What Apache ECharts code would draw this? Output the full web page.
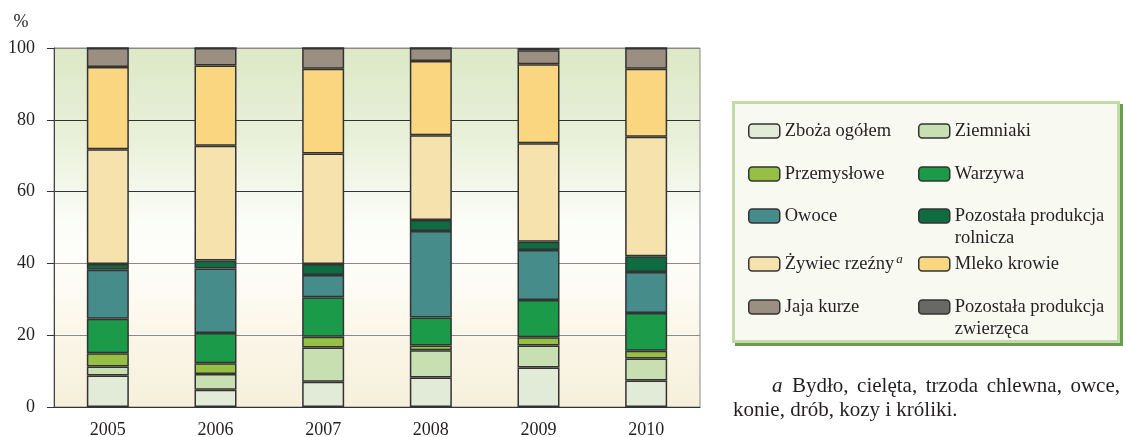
<!DOCTYPE html>
<html>
<head>
<meta charset="utf-8">
<script src="https://cdn.jsdelivr.net/npm/echarts@6/dist/echarts.min.js"></script>
<style>
html,body{margin:0;padding:0;background:#ffffff;}
#c{width:1123px;height:437px;}
</style>
</head>
<body>
<div id="c"></div>
<script>
// ---- data ----
const years = ['2005', '2006', '2007', '2008', '2009', '2010'];
const zboza = [8.8, 4.8, 7.0, 8.2, 11.0, 7.4];
const ziemniaki = [2.5, 4.4, 9.6, 7.6, 6.1, 6.1];
const przemyslowe = [3.7, 3.0, 3.0, 1.3, 2.3, 2.2];
const warzywa = [9.6, 8.4, 11.0, 7.8, 10.4, 10.5];
const owoce = [13.6, 18.0, 6.2, 24.1, 13.9, 11.4];
const pozRolnicza = [1.6, 2.2, 3.0, 3.1, 2.3, 4.4];
const zywiec = [32.0, 32.0, 30.8, 23.6, 27.5, 33.3];
const mleko = [22.9, 22.3, 23.6, 20.7, 22.0, 18.9];
const jaja = [5.3, 4.9, 5.8, 3.6, 3.9, 5.8];
const pozZwierzeca = [0, 0, 0, 0, 0.6, 0];

const seriesNames = ['Zboża ogółem', 'Ziemniaki', 'Przemysłowe', 'Warzywa', 'Owoce',
  'Pozostała produkcja rolnicza', 'Żywiec rzeźny', 'Mleko krowie', 'Jaja kurze',
  'Pozostała produkcja zwierzęca'];
const seriesData = [zboza, ziemniaki, przemyslowe, warzywa, owoce, pozRolnicza, zywiec, mleko, jaja, pozZwierzeca];
const seriesColors = ['#e2ebd7', '#c8e0b1', '#95c043', '#1b9b4a', '#468c8b', '#0f6b41',
  '#f5e2ad', '#f9d67f', '#9b8f82', '#676962'];
const legendLabels = ['Zboża ogółem', 'Ziemniaki', 'Przemysłowe', 'Warzywa', 'Owoce',
  'Pozostała produkcja\nrolnicza', '{n|Żywiec rzeźny}{s|a}', 'Mleko krowie', 'Jaja kurze',
  'Pozostała produkcja\nzwierzęca'];
const footLine1 = ['Bydło,', 'cielęta,', 'trzoda', 'chlewna,', 'owce,'];
const footLine2 = 'konie, drób, kozy i króliki.';

// ---- style ----
const FONT = 'Liberation Serif';
const TXT = '#231f20';
const LEG_FS = 18.5;
const LEG_LH = 22;

const chart = echarts.init(document.getElementById('c'), null, {renderer: 'canvas'});

const series = seriesNames.map((n, i) => ({
  name: n,
  type: 'bar',
  stack: 'total',
  barWidth: 42,
  data: seriesData[i],
  itemStyle: {color: seriesColors[i], borderColor: '#333333', borderWidth: 1.5},
  emphasis: {disabled: true}
}));

// legend layout: two columns, five rows
const colLeft = [748, 918];
const rowCenter = [131, 174, 216, 264, 307];
const legends = seriesNames.map((n, i) => {
  const col = i % 2, row = Math.floor(i / 2);
  const twoLine = legendLabels[i].indexOf('\n') >= 0;
  return {
    left: colLeft[col],
    top: rowCenter[row] - (twoLine ? LEG_LH * 1.5 : LEG_LH / 2),
    padding: 0,
    itemWidth: 31,
    itemHeight: 14,
    itemGap: 0,
    textGap: 16,
    selectedMode: false,
    data: [n],
    formatter: legendLabels[i],
    itemStyle: {borderColor: '#333333', borderWidth: 1.5},
    textStyle: {
      fontFamily: FONT, fontSize: LEG_FS, color: TXT, lineHeight: LEG_LH,
      padding: twoLine ? [LEG_LH, 0, 0, 0] : 0,
      rich: {
        n: {fontFamily: FONT, fontSize: LEG_FS, color: TXT, lineHeight: LEG_LH},
        s: {fontFamily: FONT, fontSize: 13, fontStyle: 'italic', color: TXT, lineHeight: 13, verticalAlign: 'top', padding: [0, 0, 0, 2]}
      }
    }
  };
});

// footnote justification
const mctx = document.createElement('canvas').getContext('2d');
const footFont = '21px "' + FONT + '"';
mctx.font = footFont;
const l1Start = 792, l1End = 1120;
const wWidths = footLine1.map(w => mctx.measureText(w).width);
const totalW = wWidths.reduce((a, b) => a + b, 0);
const gap = (l1End - l1Start - totalW) / (footLine1.length - 1);
const footGraphics = [];
let xx = l1Start;
footLine1.forEach((w, i) => {
  footGraphics.push({type: 'text', x: xx, y: 386, style: {text: w, font: footFont, fill: TXT, verticalAlign: 'middle'}});
  xx += wWidths[i] + gap;
});
footGraphics.push({type: 'text', x: 772, y: 386, style: {text: 'a', font: 'italic 21px "' + FONT + '"', fill: TXT, verticalAlign: 'middle'}});
footGraphics.push({type: 'text', x: 733, y: 410, style: {text: footLine2, font: footFont, fill: TXT, verticalAlign: 'middle'}});

const option = {
  animation: false,
  backgroundColor: '#ffffff',
  grid: {
    left: 54, right: 423, top: 48, bottom: 30,
    outerBoundsMode: 'none',
    containLabel: false,
    show: true,
    borderColor: '#8a8a8a',
    borderWidth: 1,
    backgroundColor: {
      type: 'linear', x: 0, y: 0, x2: 0, y2: 1,
      colorStops: [
        {offset: 0, color: '#dce8c6'},
        {offset: 0.25, color: '#e9f0da'},
        {offset: 0.5, color: '#fcfdf9'},
        {offset: 0.6, color: '#fefdf9'},
        {offset: 0.8, color: '#faf6e8'},
        {offset: 1, color: '#f6efdb'}
      ]
    }
  },
  legend: legends,
  xAxis: {
    type: 'category',
    data: years,
    axisLine: {lineStyle: {color: '#333333', width: 1}},
    axisTick: {show: false},
    axisLabel: {fontFamily: FONT, fontSize: 18, color: TXT, margin: 14}
  },
  yAxis: {
    type: 'value',
    min: 0, max: 100, interval: 20,
    axisLine: {show: true, lineStyle: {color: '#444444', width: 1}},
    axisTick: {show: true, length: 7, lineStyle: {color: '#333333'}},
    axisLabel: {fontFamily: FONT, fontSize: 18, color: TXT, margin: 19},
    splitLine: {show: true, lineStyle: {color: ['#333333', '#8a8a8a', '#8a8a8a', '#333333', '#333333', '#8a8a8a'], width: 1}}
  },
  graphic: [
    {type: 'rect', z: 0, shape: {x: 735, y: 104, width: 388, height: 242}, style: {fill: '#6c9b55'}},
    {type: 'rect', z: 1, shape: {x: 733.5, y: 102.5, width: 385, height: 239}, style: {fill: '#f8f9f1', stroke: '#c3dba6', lineWidth: 3}},
    {type: 'text', x: 21, y: 22, style: {text: '%', font: '18px "' + FONT + '"', fill: TXT, align: 'center', verticalAlign: 'middle'}}
  ].concat(footGraphics),
  series: series
};
chart.setOption(option);
</script>
</body>
</html>
